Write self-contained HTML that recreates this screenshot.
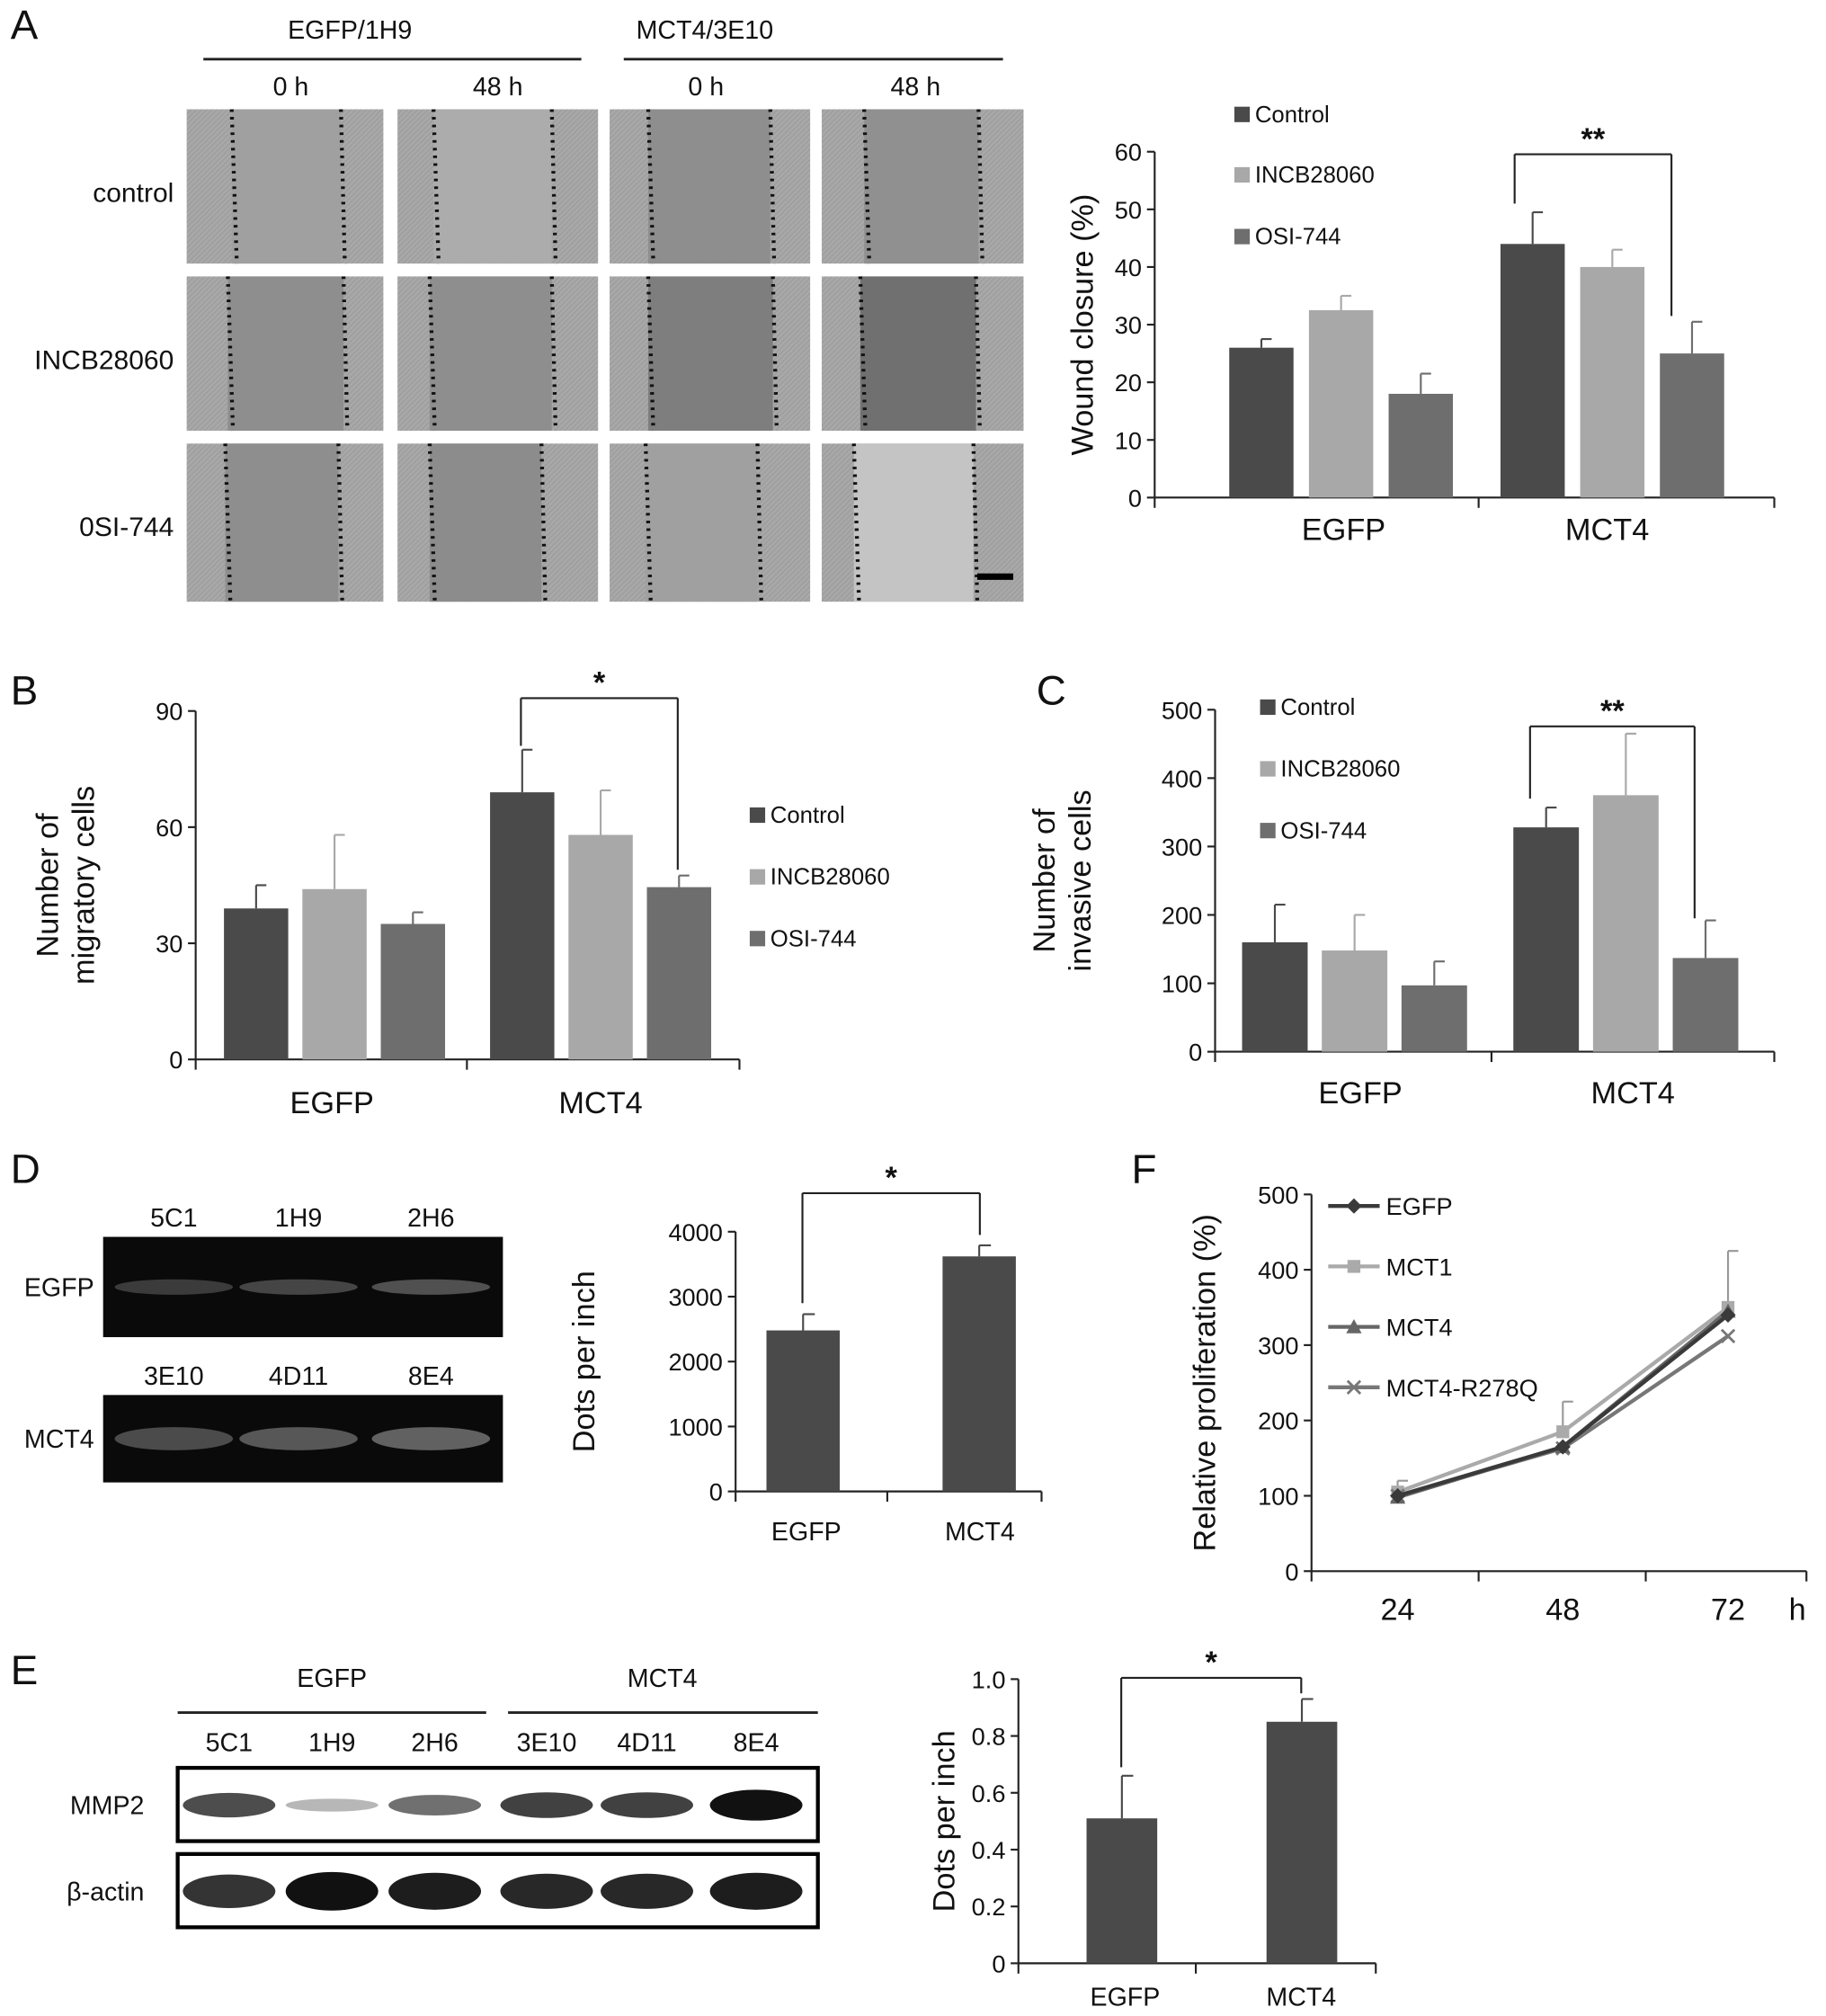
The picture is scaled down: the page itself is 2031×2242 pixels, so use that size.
<!DOCTYPE html>
<html><head><meta charset="utf-8"><style>
html,body{margin:0;padding:0;background:#fff;}
svg{display:block;font-family:"Liberation Sans",Arial,sans-serif;}
</style></head><body>
<svg id="fig" width="2031" height="2242" viewBox="0 0 1420 1568" xmlns="http://www.w3.org/2000/svg">
<defs>
<pattern id="tex" width="4" height="4" patternUnits="userSpaceOnUse"><rect width="4" height="4" fill="#a8a8a8"/><path d="M0 2 L2 0 M2 4 L4 2" stroke="#979797" stroke-width="0.6"/></pattern>
</defs>
<g id="root"></g>
</svg>
<script>
// ---- data ----
const woundCats = ["EGFP","MCT4"];
const woundCtrl = [26, 44]; const woundCtrlErr = [27.5, 49.5];
const woundIncb = [32.5, 40]; const woundIncbErr = [35, 43];
const woundOsi = [18, 25]; const woundOsiErr = [21.5, 30.5];
const woundTicks = [0,10,20,30,40,50,60];
const migCtrl = [39, 69]; const migCtrlErr = [45, 80];
const migIncb = [44, 58]; const migIncbErr = [58, 69.5];
const migOsi = [35, 44.5]; const migOsiErr = [38, 47.5];
const migTicks = [0,30,60,90];
const invCtrl = [160, 328]; const invCtrlErr = [215, 357];
const invIncb = [148, 375]; const invIncbErr = [200, 465];
const invOsi = [97, 137]; const invOsiErr = [132, 192];
const invTicks = [0,100,200,300,400,500];
const dVals = [2480, 3620]; const dErr = [2730, 3790];
const dTicks = [0,1000,2000,3000,4000];
const eVals = [0.51, 0.85]; const eErr = [0.66, 0.93];
const eTicks = ["0","0.2","0.4","0.6","0.8","1.0"];
const fHours = ["24","48","72"];
const fEgfp = [100,165,340]; const fMct1 = [105,185,350]; const fMct4 = [98,165,345]; const fR278 = [100,163,312];
const fMct1Err = [120,225,425];
const fTicks = [0,100,200,300,400,500];
const seriesColors = ["#4a4a4a","#a8a8a8","#6e6e6e"];
const seriesNames = ["Control","INCB28060","OSI-744"];

const NS="http://www.w3.org/2000/svg";
const root=document.getElementById('root');
function el(tag,attrs,parent,text){const e=document.createElementNS(NS,tag);for(const k in attrs)e.setAttribute(k,attrs[k]);if(text!==undefined)e.textContent=text;(parent||root).appendChild(e);return e;}
function txt(x,y,s,size,anchor,parent,name,extra){const t=el('text',Object.assign({x:x,y:y,'font-size':size,'text-anchor':anchor||'middle',fill:'#111'},extra||{}),parent,s);

return t;}
function line(x1,y1,x2,y2,p,w,c){return el('line',{x1,y1,x2,y2,stroke:c||'#222','stroke-width':w||1.5},p);}

function barChart(o){
 const g=el('g',{});
 
 
 const y=v=>o.y0-(v/o.max)*(o.y0-o.yTop);
 line(o.x0,o.y0,o.x0,o.yTop,g);line(o.x0,o.y0,o.x1,o.y0,g);
 o.ticks.forEach(t=>{const v=parseFloat(t);line(o.x0-6,y(v),o.x0,y(v),g);txt(o.x0-10,y(v)+7,String(t),o.tickSize||19,'end',g,'y-tick-label');});
 (o.xTicks||[]).forEach(xt=>line(xt,o.y0,xt,o.y0+8,g));
 o.series.forEach((s,si)=>{
  s.vals.forEach((v,ci)=>{
   const bx=o.groupX[ci]+si*o.step;
   const r=el('rect',{x:bx,y:y(v),width:o.bw,height:o.y0-y(v),fill:s.color},g);
   
   
   const cx=bx+o.bw/2;line(cx,y(v),cx,y(s.err[ci]),g,1.5,s.color);line(cx,y(s.err[ci]),cx+o.bw*0.16,y(s.err[ci]),g,1.5,s.color);
  });
 });
 o.cats.forEach((c,ci)=>txt(o.catX[ci],o.catY,c,o.catSize||24,'middle',g,'x-category-label'));
 txt(0,0,o.ylab,o.ylSize||24,'middle',g,'y-axis-title',{transform:`translate(${o.ylX},${(o.y0+o.yTop)/2}) rotate(-90)`});
 if(o.ylab2){txt(0,0,o.ylab2,o.ylSize||24,'middle',g,'y-axis-title',{transform:`translate(${o.ylX+28},${(o.y0+o.yTop)/2}) rotate(-90)`});}
 if(o.sig){const [xa,xb,ya,yb,ycap,st]=[o.sig.xa,o.sig.xb,y(o.sig.va),y(o.sig.vb),o.sig.top,o.sig.star];
  line(xa,ya,xa,ycap,g);line(xa,ycap,xb,ycap,g);line(xb,ycap,xb,yb,g);txt((xa+xb)/2,ycap-4,st,24,'middle',g,'significance-star',{'font-weight':'bold'});}
 if(o.legend){o.legend.forEach((L,i)=>{const r=el('rect',{x:L[0],y:L[1]-12,width:12,height:12,fill:seriesColors[i]},g);
  txt(L[0]+16,L[1],seriesNames[i],18,'start',g,'legend-entry');});}
 return g;
}
function S(vals,err,i){return {vals,err,color:seriesColors[i],key:['control','incb28060','osi744'][i]};}

[["A",8,30],["B",8,548],["C",806,548],["D",8,920],["F",880,920],["E",8,1310]].forEach(p=>txt(p[1],p[2],p[0],32,'start',root,'panel-label-'+p[0].toLowerCase()));

// ---- Panel A photos ----
const colX=[145,309,474,639], colW=[153,156,156,157], rowY=[85,215,345], rowH=[120,120,123];
const photoFill=[["#a0a0a0","#acacac","#8e8e8e","#909090"],["#8e8e8e","#8e8e8e","#7e7e7e","#707070"],["#8e8e8e","#8c8c8c","#a0a0a0","#c4c4c4"]];
const dotPos=[[[35,120],[28,120],[30,125],[33,122]],[[32,122],[25,120],[30,127],[30,120]],[[30,118],[25,112],[28,115],[25,118]]];
rowY.forEach((ry,ri)=>colX.forEach((cx,ci)=>{
 const r=el('rect',{x:cx,y:ry,width:colW[ci],height:rowH[ri],fill:'url(#tex)'});
 
 const [a,b]=dotPos[ri][ci];
 el('rect',{x:cx+a,y:ry,width:b-a,height:rowH[ri],fill:photoFill[ri][ci]});
 line(cx+a,ry,cx+a+4,ry+rowH[ri],root,3,'#111').setAttribute('stroke-dasharray','2 4');
 line(cx+b,ry,cx+b+3,ry+rowH[ri],root,3,'#111').setAttribute('stroke-dasharray','2 4');
}));
el('rect',{x:760,y:446,width:28,height:5,fill:'#000'});
txt(272,30,"EGFP/1H9",20,'middle',root,'group-header');txt(548,30,"MCT4/3E10",20,'middle',root,'group-header');
line(158,46,452,46,root,2);line(485,46,780,46,root,2);
[["0 h",226],["48 h",387],["0 h",549],["48 h",712]].forEach(t=>txt(t[1],74,t[0],20,'middle',root,'time-label'));
[["control",150],["INCB28060",280],["0SI-744",410]].forEach(t=>txt(135,t[1]+7,t[0],21,'end',root,'row-label'));

barChart({name:'wound-closure-chart',x0:898,x1:1380,y0:387,yTop:118,max:60,ticks:woundTicks,cats:woundCats,
 groupX:[956,1167],step:62,bw:50,catX:[1045,1250],catY:420,xTicks:[898,1150,1380],
 series:[S(woundCtrl,woundCtrlErr,0),S(woundIncb,woundIncbErr,1),S(woundOsi,woundOsiErr,2)],
 ylab:"Wound closure (%)",ylX:850,sig:{xa:1178,xb:1300,va:51,vb:31.5,top:120,star:"**"},legend:[[960,95],[960,142],[960,190]]});
barChart({name:'migration-chart',x0:152,x1:575,y0:824,yTop:553,max:90,ticks:migTicks,cats:woundCats,
 groupX:[174,381],step:61,bw:50,catX:[258,467],catY:866,xTicks:[152,363,575],
 series:[S(migCtrl,migCtrlErr,0),S(migIncb,migIncbErr,1),S(migOsi,migOsiErr,2)],
 ylab:"Number of",ylab2:"migratory cells",ylX:45,sig:{xa:405,xb:527,va:81,vb:49,top:543,star:"*"},legend:[[583,640],[583,688],[583,736]]});
barChart({name:'invasion-chart',x0:945,x1:1380,y0:818,yTop:552,max:500,ticks:invTicks,cats:woundCats,
 groupX:[966,1177],step:62,bw:51,catX:[1058,1270],catY:858,xTicks:[945,1160,1380],
 series:[S(invCtrl,invCtrlErr,0),S(invIncb,invIncbErr,1),S(invOsi,invOsiErr,2)],
 ylab:"Number of",ylab2:"invasive cells",ylX:820,sig:{xa:1190,xb:1318,va:370,vb:195,top:565,star:"**"},legend:[[980,556],[980,604],[980,652]]});
// ---- Gel D ----
[[962,78,"EGFP",["5C1","1H9","2H6"],0.45],[1085,68,"MCT4",["3E10","4D11","8E4"],0.6]].forEach((g,gi)=>{
 const r=el('rect',{x:80,y:g[0],width:311,height:g[1],fill:'#0a0a0a'});
 [135,232,335].forEach((x,i)=>{el('ellipse',{cx:x,cy:g[0]+g[1]/2,rx:46,ry:gi?9:6,fill:'#777',opacity:g[4]+i*0.1});txt(x,g[0]-8,g[3][i],20,'middle',root,'lane-label');});
 txt(73,g[0]+g[1]/2+7,g[2],20,'end',root,'gel-row-label');
});
barChart({name:'gel-quant-chart',x0:572,x1:810,y0:1160,yTop:958,max:4000,ticks:dTicks,cats:["EGFP","MCT4"],
 groupX:[596,733],step:0,bw:57,catX:[627,762],catY:1198,xTicks:[572,690,810],catSize:20,
 series:[{vals:dVals,err:dErr,color:'#4a4a4a',key:'value'}],ylab:"Dots per inch",ylX:462,
 sig:{xa:624,xb:762,va:2900,vb:3950,top:928,star:"*"}});
// ---- Blot E ----
txt(258,1312,"EGFP",20,'middle',root,'group-header');txt(515,1312,"MCT4",20,'middle',root,'group-header');
line(138,1332,378,1332,root,2);line(395,1332,636,1332,root,2);
const blotLanes=["5C1","1H9","2H6","3E10","4D11","8E4"], blotX=[178,258,338,425,503,588];
const mmpInt=[0.75,0.3,0.6,0.8,0.8,1], actInt=[0.85,1,0.95,0.9,0.9,0.95];
blotLanes.forEach((l,i)=>txt(blotX[i],1362,l,20,'middle',root,'lane-label'));
[[1375,"MMP2",mmpInt,10],[1442,"β-actin",actInt,13]].forEach(b=>{
 const r=el('rect',{x:138,y:b[0],width:498,height:57,fill:'#fff',stroke:'#000','stroke-width':3});
 blotX.forEach((x,i)=>el('ellipse',{cx:x,cy:b[0]+29,rx:36,ry:b[3]*b[2][i]+2,fill:'#111',opacity:b[2][i]}));
 txt(112,b[0]+36,b[1],20,'end',root,'blot-row-label');
});
barChart({name:'blot-quant-chart',x0:792,x1:1070,y0:1527,yTop:1306,max:1,ticks:eTicks,cats:["EGFP","MCT4"],
 groupX:[845,985],step:0,bw:55,catX:[875,1012],catY:1560,xTicks:[792,930,1070],catSize:20,
 series:[{vals:eVals,err:eErr,color:'#4a4a4a',key:'value'}],ylab:"Dots per inch",ylX:742,
 sig:{xa:872,xb:1012,va:0.69,vb:0.95,top:1305,star:"*"}});
// ---- Chart F ----
(function(){
 const g=el('g',{});
 const x0=1020,x1=1405,y0=1222,yTop=929,max=500;
 const y=v=>y0-v/max*(y0-yTop);const xs=i=>1087+i*128.5;
 line(x0,y0,x0,yTop,g);line(x0,y0,x1,y0,g);
 fTicks.forEach(t=>{line(x0-6,y(t),x0,y(t),g);txt(x0-10,y(t)+7,String(t),19,'end',g,'y-tick-label');});
 [1020,1150,1280,1405].forEach(t=>line(t,y0,t,y0+8,g));
 fHours.forEach((h,i)=>txt(xs(i),1260,h,24,'middle',g,'x-tick-label'));
 txt(1398,1260,"h",24,'middle',g,'x-axis-unit');
 txt(0,0,"Relative proliferation (%)",24,'middle',g,'y-axis-title',{transform:`translate(945,${(y0+yTop)/2}) rotate(-90)`});
 fMct1Err.forEach((e,i)=>{line(xs(i),y(fMct1[i]),xs(i),y(e),g,1.5,'#999');line(xs(i),y(e),xs(i)+8,y(e),g,1.5,'#999');});
 const ser=[[fMct1,'#aaaaaa','square','MCT1'],[fR278,'#777','x','MCT4-R278Q'],[fMct4,'#666','tri','MCT4'],[fEgfp,'#3a3a3a','diamond','EGFP']];
 ser.forEach(s=>{
  const pl=el('polyline',{points:s[0].map((v,i)=>xs(i)+','+y(v)).join(' '),fill:'none',stroke:s[1],'stroke-width':3},g);
  
  s[0].forEach((v,i)=>marker(s[2],xs(i),y(v),s[1],g));
 });
 const legOrder=[[fEgfp,'#3a3a3a','diamond','EGFP'],[fMct1,'#aaaaaa','square','MCT1'],[fMct4,'#666','tri','MCT4'],[fR278,'#777','x','MCT4-R278Q']];
 legOrder.forEach((s,i)=>{const ly=938+i*47;line(1033,ly,1073,ly,g,3,s[1]);marker(s[2],1053,ly,s[1],g);txt(1078,ly+7,s[3],19,'start',g,'legend-entry');});
 function marker(t,x,yy,c,p){
  if(t==='square')el('rect',{x:x-5,y:yy-5,width:10,height:10,fill:c},p);
  else if(t==='diamond')el('polygon',{points:`${x},${yy-6} ${x+6},${yy} ${x},${yy+6} ${x-6},${yy}`,fill:c},p);
  else if(t==='tri')el('polygon',{points:`${x},${yy-6} ${x+6},${yy+5} ${x-6},${yy+5}`,fill:c},p);
  else {line(x-5,yy-5,x+5,yy+5,p,2,c);line(x-5,yy+5,x+5,yy-5,p,2,c);}
 }
})();
</script>
</body></html>
